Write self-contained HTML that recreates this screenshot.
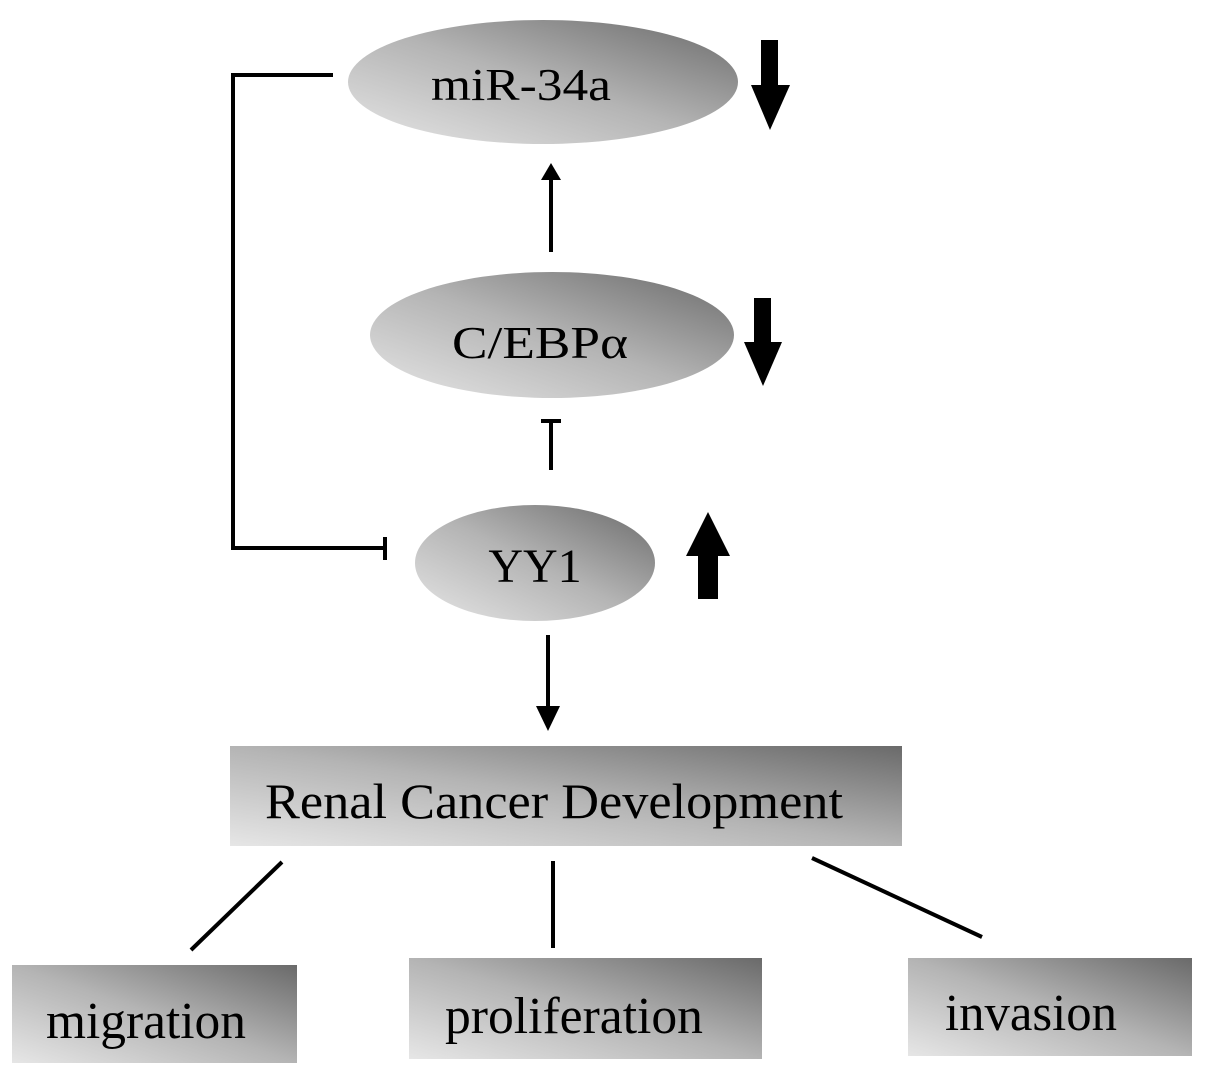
<!DOCTYPE html>
<html><head><style>html,body{margin:0;padding:0;background:#fff}</style></head>
<body>
<svg width="1205" height="1077" viewBox="0 0 1205 1077" xmlns="http://www.w3.org/2000/svg" font-family="Liberation Serif, serif">
<defs>
<linearGradient id="g" x1="0" y1="1" x2="1" y2="0">
<stop offset="0" stop-color="#e6e6e6"/><stop offset="0.5" stop-color="#b4b4b4"/><stop offset="1" stop-color="#6a6a6a"/>
</linearGradient>
</defs>
<ellipse cx="543" cy="82" rx="195" ry="62" fill="url(#g)"/>
<text x="521" y="100" font-size="46" text-anchor="middle" textLength="180" lengthAdjust="spacingAndGlyphs">miR-34a</text>
<ellipse cx="552" cy="335" rx="182" ry="63" fill="url(#g)"/>
<text x="540" y="358" font-size="46" text-anchor="middle" textLength="176" lengthAdjust="spacingAndGlyphs">C/EBPα</text>
<ellipse cx="535" cy="563" rx="120" ry="58" fill="url(#g)"/>
<text x="535" y="582" font-size="48" text-anchor="middle">YY1</text>
<g fill="#000">
<rect x="761" y="40" width="17" height="50"/><polygon points="751,85 790,85 770,130"/>
<rect x="754" y="298" width="17" height="50"/><polygon points="744,342 782,342 763,386"/>
<rect x="698" y="552" width="20" height="47"/><polygon points="686,556 730,556 708,512"/>
</g>
<g stroke="#000" stroke-width="4" fill="none">
<line x1="551" y1="252" x2="551" y2="178"/>
<line x1="551" y1="470" x2="551" y2="421"/><line x1="541" y1="421" x2="561" y2="421"/>
<polyline points="333,75 233,75 233,548 385,548"/><line x1="385" y1="537" x2="385" y2="560"/>
<line x1="548" y1="635" x2="548" y2="710"/>
<line x1="282" y1="862" x2="191" y2="950"/>
<line x1="553" y1="861" x2="553" y2="948"/>
<line x1="812" y1="858" x2="982" y2="937"/>
</g>
<polygon points="541,180 561,180 551,163" fill="#000"/>
<polygon points="536,706 560,706 548,731" fill="#000"/>
<rect x="230" y="746" width="672" height="100" fill="url(#g)"/>
<text x="265" y="818" font-size="50" textLength="578" lengthAdjust="spacingAndGlyphs">Renal Cancer Development</text>
<rect x="12" y="965" width="285" height="98" fill="url(#g)"/>
<text x="46" y="1038" font-size="52" textLength="200" lengthAdjust="spacingAndGlyphs">migration</text>
<rect x="409" y="958" width="353" height="101" fill="url(#g)"/>
<text x="445" y="1033" font-size="52" textLength="258" lengthAdjust="spacingAndGlyphs">proliferation</text>
<rect x="908" y="958" width="284" height="98" fill="url(#g)"/>
<text x="945" y="1030" font-size="52" textLength="172" lengthAdjust="spacingAndGlyphs">invasion</text>
</svg>
</body></html>
